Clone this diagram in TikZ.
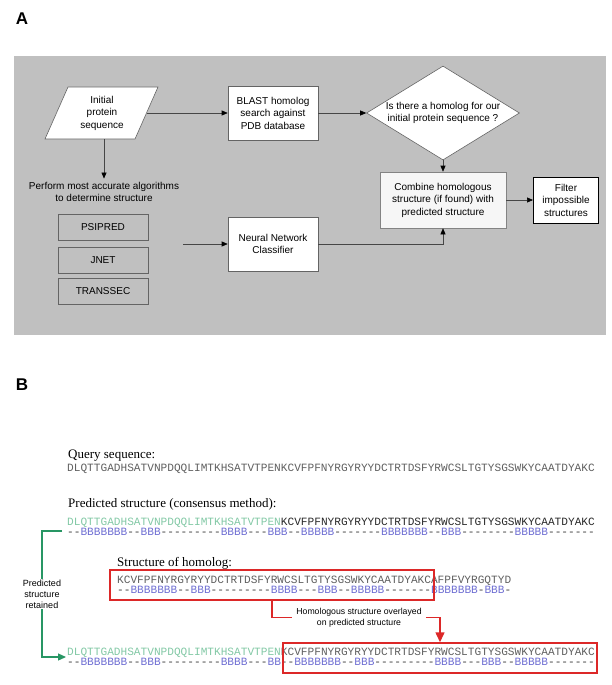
\documentclass[tikz,border=0pt]{standalone}
\usepackage{fontspec}
\setmainfont{Liberation Serif}
\setsansfont{Liberation Sans}
\setmonofont{Liberation Mono}
\usetikzlibrary{arrows.meta,shapes.geometric}
\definecolor{bggray}{RGB}{192,192,192}
\definecolor{boxline}{RGB}{100,100,100}
\definecolor{arrline}{RGB}{70,70,70}
\definecolor{combfill}{RGB}{246,246,246}
\definecolor{seqgreen}{RGB}{130,200,165}
\definecolor{brgreen}{RGB}{40,150,100}
\definecolor{bcol}{RGB}{110,110,210}
\definecolor{dashcol}{RGB}{60,60,60}
\definecolor{qgray}{RGB}{95,95,95}
\definecolor{darkseq}{RGB}{40,40,40}
\definecolor{redc}{RGB}{220,40,40}
\newcommand{\Bb}[1]{\textcolor{bcol}{#1}}
\begin{document}
\begin{tikzpicture}[x=1bp,y=-1bp,
  afont/.style={font=\sffamily\fontsize{10bp}{12.5bp}\selectfont},
  wbox/.style={draw=boxline, fill=white, line width=0.6bp, minimum width=90bp, minimum height=54bp, align=center, afont, inner sep=1bp},
  gbox/.style={draw=boxline, line width=0.6bp, minimum width=90bp, minimum height=26bp, afont, inner sep=1bp},
  arr/.style={draw=arrline, line width=0.6bp, -{Triangle[length=6bp,width=5bp,color=black]}},
  panlab/.style={font=\sffamily\bfseries\fontsize{17bp}{20bp}\selectfont, inner sep=0pt},
  head/.style={font=\rmfamily\fontsize{13bp}{15bp}\selectfont, anchor=west, inner sep=0pt, text height=9.5bp, text depth=3bp},
  seq/.style={font=\ttfamily\fontsize{11.13bp}{13bp}\selectfont, anchor=west, inner sep=0pt, text height=7.5bp, text depth=1.5bp},
  strl/.style={seq, text=dashcol},
  gline/.style={draw=brgreen, line width=1.2bp},
  rline/.style={draw=redc, line width=1.5bp},
  rbox/.style={draw=redc, line width=1.5bp, inner sep=0pt}
]
\useasboundingbox (0,0) rectangle (612,685);

% ---------------- Panel A ----------------
\node[panlab] (labA) at (22,19) {A};
\fill[bggray] (14,56) rectangle (606,335);

\draw[boxline, fill=white, line width=0.6bp] (45,139) -- (68,87) -- (158,87) -- (135,139) -- cycle;
\node[afont, align=center] (par) at (102,113) {Initial\\protein\\sequence};
\coordinate (parR) at (147,113);
\coordinate (parB) at (104,139);

\node[wbox] (blast) at (273,113) {BLAST homolog\\search against\\PDB database};
\node[diamond, draw=boxline, fill=white, line width=0.6bp, aspect=1.63,
      minimum width=153bp, minimum height=94bp, inner sep=0pt, afont, align=center]
      (dia) at (443,113) {Is there a homolog for our\\initial protein sequence ?};

\node[afont, align=center] (perf) at (104,192) {Perform most accurate algorithms\\to determine structure};
\node[gbox] (psi) at (103,227) {PSIPRED};
\node[gbox] (jnet) at (103,260) {JNET};
\node[gbox] (trans) at (103,291) {TRANSSEC};
\coordinate (algo) at (183,244);

\node[wbox] (nn) at (273,244) {Neural Network\\Classifier};
\node[wbox, fill=combfill, draw=boxline!80, minimum width=126bp, minimum height=56bp] (comb) at (443,200)
      {Combine homologous\\structure (if found) with\\predicted structure};
\node[wbox, draw=black, line width=1bp, minimum width=65bp, minimum height=46bp] (filt) at (566,200)
      {Filter\\impossible\\structures};

\draw[arr] (parR) -- (blast.west);
\draw[arr] (blast.east) -- (dia.west);
\draw[arr] (parB) -- (perf.north);
\draw[arr] (algo) -- (nn.west);
\draw[arr] (nn.east) -| (comb.south);
\draw[arr] (dia.south) -- (comb.north);
\draw[arr] (comb.east) -- (filt.west);

% ---------------- Panel B ----------------
\node[panlab] (labB) at (22,385) {B};

\node[head] (qh) at (68,455) {Query sequence:};
\node[seq, text=qgray] (qs) at (67,468) {DLQTTGADHSATVNPDQQLIMTKHSATVTPENKCVFPFNYRGYRYYDCTRTDSFYRWCSLTGTYSGSWKYCAATDYAKC};

\node[head] (ph) at (68,504) {Predicted structure (consensus method):};
\node[seq] (ps) at (67,522) {\textcolor{seqgreen}{DLQTTGADHSATVNPDQQLIMTKHSATVTPEN}\textcolor{darkseq}{KCVFPFNYRGYRYYDCTRTDSFYRWCSLTGTYSGSWKYCAATDYAKC}};
\node[strl] (pst) at (67,532.5) {--\Bb{BBBBBBB}--\Bb{BBB}---------\Bb{BBBB}---\Bb{BBB}--\Bb{BBBBB}-------\Bb{BBBBBBB}--\Bb{BBB}--------\Bb{BBBBB}-------};

\node[head] (hh) at (117,563) {Structure of homolog:};
\node[seq, text=qgray] (hs) at (117,580) {KCVFPFNYRGYRYYDCTRTDSFYRWCSLTGTYSGSWKYCAATDYAKCAFPFVYRGQTYD};
\node[strl] (hst) at (117,590) {--\Bb{BBBBBBB}--\Bb{BBB}---------\Bb{BBBB}---\Bb{BBB}--\Bb{BBBBB}-------\Bb{BBBBBBB}-\Bb{BBB}-};

\node[seq] (fs) at (67,652) {\textcolor{seqgreen}{DLQTTGADHSATVNPDQQLIMTKHSATVTPEN}\textcolor{qgray}{KCVFPFNYRGYRYYDCTRTDSFYRWCSLTGTYSGSWKYCAATDYAKC}};
\node[strl] (fst) at (67,662.5) {--\Bb{BBBBBBB}--\Bb{BBB}---------\Bb{BBBB}---\Bb{BB}--\Bb{BBBBBBB}--\Bb{BBB}---------\Bb{BBBB}---\Bb{BBB}--\Bb{BBBBB}-------};

\node[rbox, minimum width=324bp, minimum height=30bp] (hbox) at (272,585) {};
\node[rbox, minimum width=314bp, minimum height=30bp] (fbox) at (440,658) {};

\node[font=\sffamily\fontsize{8.7bp}{11bp}\selectfont, align=center, inner xsep=4bp, inner ysep=0pt]
     (ovl) at (359,617.5) {Homologous structure overlayed\\on predicted structure};
\draw[rline] (hbox.south) |- (ovl.west);
\draw[rline, -{Triangle[length=10bp,width=9bp]}] (ovl.east) -| (fbox.north);

\node[font=\sffamily\fontsize{9bp}{10.8bp}\selectfont, align=center, fill=white, inner sep=1bp]
     (ret) at (42,594) {Predicted\\structure\\retained};
\coordinate (gTop) at (62,531);
\coordinate (gEnd) at (66,657);
\draw[gline] (gTop) -| (ret.north);
\draw[gline, -{Triangle[length=8bp,width=7bp]}] (ret.south) |- (gEnd);
\end{tikzpicture}
\end{document}
